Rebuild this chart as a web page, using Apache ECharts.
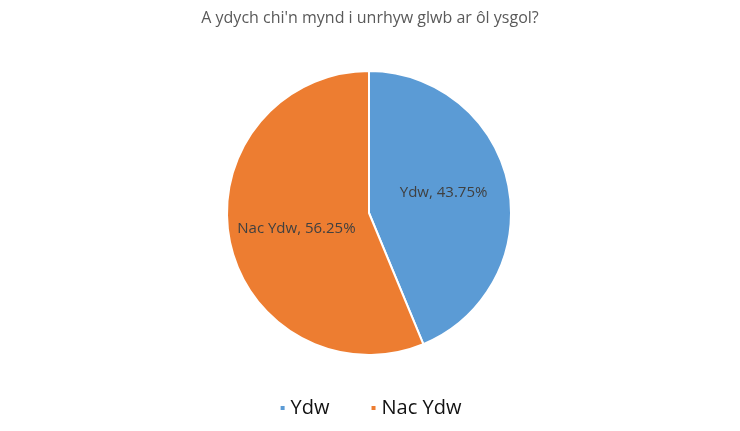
<!DOCTYPE html>
<html>
<head>
<meta charset="utf-8">
<script src="https://cdn.jsdelivr.net/npm/echarts@6/dist/echarts.min.js"></script>
<style>html,body{margin:0;padding:0;background:#fff}#c{width:740px;height:431px}</style>
</head>
<body>
<div id="c"></div>
<script>
const categories = ['Ydw', 'Nac Ydw'];
const values = [43.75, 56.25];
const colors = ['#5B9BD5', '#ED7D31'];
const titleText = "A ydych chi'n mynd i unrhyw glwb ar ôl ysgol?";

const chart = echarts.init(document.getElementById('c'));
chart.setOption({
  animation: false,
  color: colors,
  title: {
    text: titleText,
    left: 'center',
    top: 5,
    textStyle: { fontFamily: 'Open Sans', fontSize: 16, fontWeight: 'normal', color: '#595959' }
  },
  legend: {
    bottom: 8,
    left: 'center',
    itemWidth: 6,
    itemHeight: 6,
    itemGap: 40,
    icon: 'rect',
    textStyle: { fontFamily: 'Open Sans', fontSize: 20, color: '#111' },
    data: categories
  },
  series: [{
    type: 'pie',
    center: [369, 213],
    radius: 142,
    startAngle: 90,
    clockwise: true,
    itemStyle: { borderColor: '#fff', borderWidth: 2 },
    label: {
      position: 'inside',
      formatter: function (p) { return p.name + ', ' + p.value.toFixed(2) + '%'; },
      fontFamily: 'Open Sans',
      fontSize: 15,
      color: '#404040'
    },
    labelLine: { show: false },
    data: categories.map((n, i) => ({
      name: n,
      value: values[i],
      label: i === 0 ? { offset: [2, -6] } : { offset: [0, 1] }
    }))
  }]
});
</script>
</body>
</html>
